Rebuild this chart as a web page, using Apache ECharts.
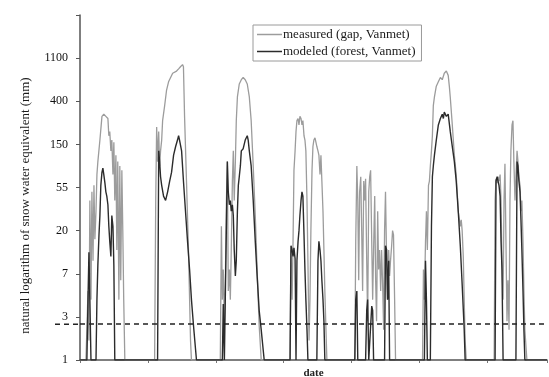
<!DOCTYPE html>
<html>
<head>
<meta charset="utf-8">
<script src="https://cdn.jsdelivr.net/npm/echarts@6/dist/echarts.min.js"></script>
<style>html,body{margin:0;padding:0;background:#fff;}#c{width:549px;height:377px;}</style>
</head>
<body>
<div id="c"></div>
<script>
// y values are natural logarithm of SWE (mm); x values are days since start of record
const yTickLabels = ['1', '3', '7', '20', '55', '150', '400', '1100', ''];
const thresholdLn = 0.83;
const xMaxDays = 2510;
const seriesNames = ['measured (gap, Vanmet)', 'modeled (forest, Vanmet)'];

const measured = [
  [0, 0],
  [32, 0], [43, 1.6], [48, 0.45], [53, 3.7], [59, 1.4], [64, 3.9], [70, 2.3], [75, 4.05], [80, 2.8], [86, 3.45], [91, 4.3], [96, 4.6], [107, 5.1], [118, 5.65], [128, 5.7], [139, 5.65], [150, 5.6], [155, 5.2], [160, 5.3], [166, 4.85], [171, 5.1], [177, 4.3], [182, 5.05], [187, 3.7], [193, 4.75], [198, 2.55], [203, 4.6], [209, 1.4], [214, 4.5], [219, 1.85], [225, 4.4], [230, 3.0], [235, 1.4], [241, 0],
  [401, 0], [407, 3.7], [412, 5.4], [417, 4.6], [423, 5.3], [428, 4.5], [433, 4.85], [439, 5.1], [444, 5.55], [455, 5.9], [465, 6.25], [476, 6.45], [487, 6.55], [498, 6.65], [508, 6.65], [519, 6.7], [530, 6.75], [540, 6.8], [551, 6.85], [556, 6.8], [562, 5.65], [573, 4.05], [583, 2.55], [594, 0.45], [599, 0],
  [754, 0], [760, 3.1], [765, 1.4], [770, 2.1], [776, 0.9], [781, 1.75], [787, 3.7], [792, 4.6], [797, 1.6], [803, 2.1], [808, 1.4], [813, 2.55], [819, 4.15], [824, 4.85], [829, 3.7], [835, 4.6], [840, 5.55], [846, 6.1], [856, 6.4], [867, 6.5], [877, 6.55], [888, 6.5], [899, 6.4], [910, 6.1], [920, 5.55], [931, 4.5], [942, 3.35], [952, 2.1], [963, 0.8], [974, 0],
  [1129, 0], [1134, 2.55], [1140, 1.4], [1145, 2.75], [1150, 4.4], [1156, 4.85], [1161, 5.3], [1166, 5.55], [1172, 5.6], [1177, 5.45], [1182, 5.65], [1188, 5.6], [1193, 5.45], [1198, 5.55], [1204, 5.2], [1209, 5.1], [1214, 4.85], [1220, 3.7], [1225, 2.3], [1231, 0.45], [1236, 1.4], [1241, 3.0], [1247, 4.4], [1252, 4.95], [1257, 5.1], [1263, 5.15], [1268, 5.05], [1273, 4.95], [1279, 4.85], [1284, 4.75], [1290, 4.3], [1295, 4.75], [1300, 4.15], [1306, 3.45], [1311, 2.55], [1316, 1.6], [1322, 0.7], [1327, 0],
  [1477, 0], [1482, 2.75], [1488, 4.5], [1493, 3.7], [1498, 1.85], [1503, 3.9], [1509, 4.25], [1514, 3.0], [1519, 1.6], [1525, 4.15], [1530, 3.7], [1535, 4.2], [1541, 2.3], [1546, 0.9], [1552, 3.9], [1557, 4.25], [1562, 4.4], [1568, 2.75], [1573, 1.4], [1578, 2.55], [1584, 3.8], [1589, 1.85], [1594, 0.9], [1600, 3.45], [1605, 2.1], [1610, 2.55], [1616, 1.6], [1621, 2.55], [1626, 1.85], [1632, 0.7], [1637, 3.0], [1642, 3.9], [1648, 2.3], [1653, 1.4], [1659, 2.55], [1664, 1.95], [1669, 2.3], [1675, 2.65], [1680, 3.0], [1685, 2.9], [1691, 1.4], [1696, 0],
  [1841, 0], [1846, 2.1], [1851, 1.4], [1857, 2.75], [1862, 3.45], [1867, 2.55], [1873, 4.05], [1878, 4.15], [1883, 4.5], [1889, 4.85], [1894, 5.2], [1899, 5.9], [1905, 6.1], [1915, 6.35], [1926, 6.45], [1937, 6.55], [1947, 6.5], [1958, 6.65], [1969, 6.7], [1979, 6.6], [1985, 6.35], [1990, 6.1], [2001, 5.45], [2012, 4.75], [2022, 4.3], [2033, 3.45], [2044, 3.1], [2049, 3.25], [2054, 3.0], [2060, 2.4], [2065, 1.4], [2070, 0.45], [2076, 0],
  [2226, 0], [2231, 3.7], [2236, 4.2], [2242, 4.1], [2247, 4.25], [2252, 4.15], [2258, 4.3], [2263, 3.7], [2268, 2.3], [2274, 1.4], [2279, 3.7], [2284, 4.55], [2290, 2.55], [2295, 0.9], [2300, 1.85], [2306, 0.7], [2311, 3.7], [2316, 4.85], [2322, 5.45], [2327, 5.55], [2332, 4.6], [2338, 3.7], [2343, 4.25], [2349, 4.85], [2354, 4.6], [2359, 4.25], [2365, 4.05], [2370, 3.45], [2375, 3.7], [2381, 2.75], [2386, 1.6], [2391, 0.7], [2402, 0],
  [2510, 0]
];

const modeled = [
  [0, 0],
  [37, 0], [43, 1.4], [48, 2.5], [53, 1.4], [59, 0], [86, 0], [91, 1.4], [96, 2.2], [102, 2.9], [107, 3.35], [112, 4.05], [118, 4.35], [123, 4.45], [128, 4.3], [134, 4.1], [139, 3.9], [144, 3.8], [150, 3.6], [155, 3.1], [160, 2.75], [166, 2.4], [171, 3.35], [177, 3.1], [182, 2.2], [187, 0],
  [417, 0], [423, 4.85], [428, 4.6], [433, 4.25], [439, 4.05], [449, 3.8], [460, 3.7], [471, 3.9], [482, 4.15], [492, 4.35], [503, 4.75], [514, 4.95], [524, 5.1], [530, 5.2], [535, 5.1], [546, 4.85], [556, 4.15], [567, 3.45], [578, 2.75], [589, 2.1], [599, 1.4], [610, 0.8], [621, 0.25], [626, 0],
  [765, 0], [770, 1.3], [776, 0], [786, 0], [792, 4.6], [797, 3.9], [803, 3.6], [808, 3.7], [813, 3.45], [819, 3.6], [824, 3.35], [829, 2.55], [835, 1.95], [840, 2.3], [846, 3.45], [851, 4.05], [856, 4.25], [862, 4.5], [867, 4.85], [877, 4.9], [888, 5.1], [899, 5.2], [904, 5.1], [910, 4.85], [920, 4.5], [931, 3.7], [942, 2.75], [952, 1.95], [963, 1.15], [974, 0.7], [990, 0],
  [1129, 0], [1134, 2.65], [1140, 2.55], [1145, 2.4], [1150, 2.6], [1156, 2.35], [1161, 0], [1166, 2.3], [1172, 2.75], [1177, 3.0], [1182, 3.35], [1188, 3.7], [1193, 3.9], [1198, 3.8], [1204, 2.9], [1209, 2.1], [1214, 1.4], [1220, 0.7], [1225, 0], [1273, 0], [1279, 2.3], [1284, 2.75], [1290, 2.55], [1295, 2.3], [1300, 1.85], [1306, 1.4], [1311, 0.9], [1316, 0],
  [1477, 0], [1482, 1.4], [1488, 1.6], [1493, 0], [1535, 0], [1541, 1.15], [1546, 1.4], [1552, 0], [1562, 0], [1568, 1.25], [1573, 1.15], [1578, 0], [1637, 0], [1642, 2.65], [1648, 2.55], [1653, 1.4], [1659, 2.3], [1664, 0],
  [1851, 0], [1857, 2.3], [1862, 1.4], [1867, 0], [1883, 0], [1889, 3.1], [1894, 4.25], [1899, 4.5], [1905, 4.75], [1915, 5.1], [1926, 5.45], [1937, 5.6], [1947, 5.7], [1953, 5.6], [1958, 5.75], [1969, 5.65], [1979, 5.7], [1990, 5.3], [2001, 4.95], [2012, 4.6], [2022, 4.15], [2033, 3.45], [2044, 2.65], [2054, 1.75], [2065, 0.7], [2070, 0],
  [2231, 0], [2236, 4.15], [2242, 4.25], [2247, 4.15], [2252, 4.05], [2258, 3.8], [2263, 2.75], [2268, 2.1], [2274, 0], [2343, 0], [2349, 4.6], [2354, 4.5], [2359, 4.15], [2365, 3.9], [2370, 3.25], [2375, 2.55], [2381, 1.6], [2386, 0.7], [2391, 0],
  [2510, 0]
];

const FONT = 'Liberation Serif';
const chart = echarts.init(document.getElementById('c'), null, { renderer: 'canvas' });
chart.setOption({
  backgroundColor: '#ffffff',
  animation: false,
  textStyle: { fontFamily: FONT },
  grid: { left: 80, right: 2, top: 15, bottom: 17, containLabel: false, outerBoundsMode: 'none' },
  legend: {
    left: 253, top: 25,
    orient: 'vertical',
    data: seriesNames,
    icon: 'rect',
    itemWidth: 25, itemHeight: 1.5,
    itemGap: 4,
    padding: [3, 6, 3, 4],
    borderColor: '#9a9a9a', borderWidth: 1,
    textStyle: { fontFamily: FONT, fontSize: 13, color: '#1a1a1a', padding: [0, 0, 0, -4] }
  },
  xAxis: {
    type: 'value', min: 0, max: xMaxDays, interval: 365,
    name: 'date', nameLocation: 'middle', nameGap: 8,
    nameTextStyle: { fontFamily: FONT, fontSize: 11, color: '#222', fontWeight: 'bold' },
    axisLine: { lineStyle: { color: '#555', width: 1.5 } },
    axisTick: { show: true, length: 3, lineStyle: { color: '#777' } },
    axisLabel: { show: false },
    splitLine: { show: false }
  },
  yAxis: {
    type: 'value', min: 0, max: 8, interval: 1,
    name: 'natural logarithm of snow water equivalent (mm)',
    nameLocation: 'middle', nameGap: 48,
    nameTextStyle: { fontFamily: FONT, fontSize: 13, color: '#1a1a1a', padding: [0, 36, 0, 0] },
    axisLine: { show: true, lineStyle: { color: '#555', width: 1.5 } },
    axisTick: { show: true, length: 4, lineStyle: { color: '#555' } },
    axisLabel: {
      fontFamily: FONT, fontSize: 12, color: '#111', margin: 12,
      formatter: function (v) { return yTickLabels[Math.round(v)] || ''; }
    },
    splitLine: { show: false }
  },
  series: [
    {
      name: seriesNames[0], type: 'line', data: measured,
      showSymbol: false, symbol: 'none',
      lineStyle: { color: '#9c9c9c', width: 1.3 },
      itemStyle: { color: '#9c9c9c' },
      z: 2
    },
    {
      name: seriesNames[1], type: 'line', data: modeled,
      showSymbol: false, symbol: 'none',
      lineStyle: { color: '#2b2b2b', width: 1.4 },
      itemStyle: { color: '#2b2b2b' },
      z: 3,
      markLine: {
        silent: true, symbol: 'none', label: { show: false },
        lineStyle: { color: '#222', type: [5, 4], width: 1.5 },
        data: [{ yAxis: thresholdLn }]
      }
    }
  ]
});

// dashed threshold extends a little left of the y axis, as in the figure
const yPix = chart.convertToPixel({ yAxisIndex: 0 }, thresholdLn);
const xPix = chart.convertToPixel({ xAxisIndex: 0 }, 0);
chart.setOption({
  graphic: [{
    type: 'line', silent: true,
    shape: { x1: xPix - 25, y1: yPix, x2: xPix, y2: yPix },
    style: { stroke: '#222', lineWidth: 1.5, lineDash: [5, 4] }
  }]
});
</script>
</body>
</html>
